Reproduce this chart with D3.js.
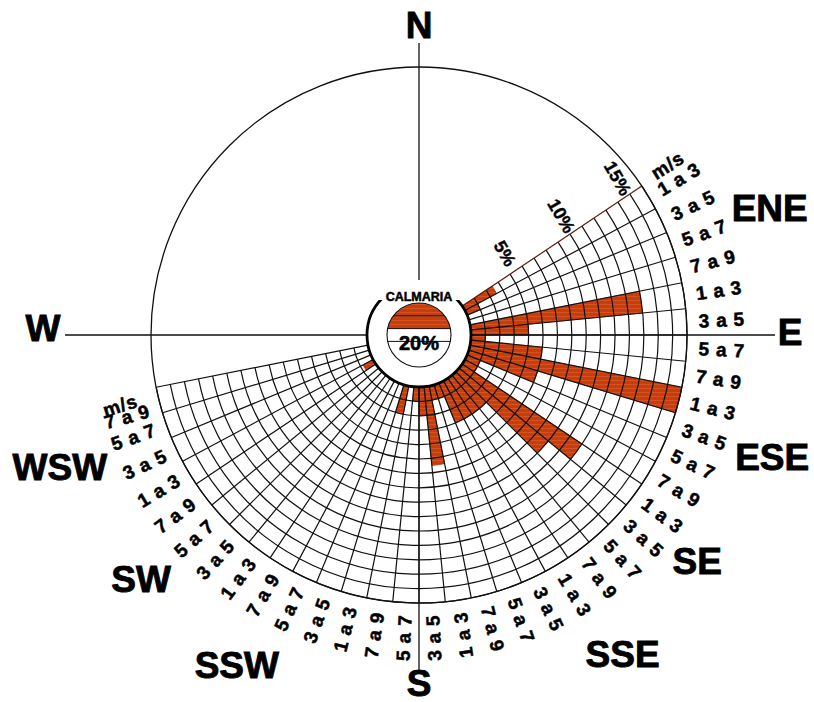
<!DOCTYPE html>
<html>
<head>
<meta charset="utf-8">
<script src="https://cdn.jsdelivr.net/npm/d3@7"></script>
<style>
  html, body { margin: 0; padding: 0; background: #fff; }
  svg { display: block; }
  text { font-family: "Liberation Sans", Arial, sans-serif; font-weight: bold; }
</style>
</head>
<body>
<svg id="chart" width="814" height="702"></svg>
<script>
// Wind directions shown on the rose, clockwise from ENE
const directions = ["ENE", "E", "ESE", "SE", "SSE", "S", "SSW", "SW", "WSW"];
// Wind speed classes (m/s), clockwise inside each direction
const speedClasses = ["1 a 3", "3 a 5", "5 a 7", "7 a 9"];
// Frequency of occurrence (%) per direction, one value per speed class
const freqENE = [2.5, 1, 0, 0];
const freqE   = [12, 4, 1, 5];
const freqESE = [15, 5, 1, 1];
const freqSE  = [10, 8, 3, 3];
const freqSSE = [3, 3, 1, 1];
const freqS   = [5.5, 2, 1, 0];
const freqSSW = [2, 0, 0, 0];
const freqSW  = [0, 0, 0, 0];
const freqWSW = [0.8, 0, 0, 0];
// Ring labels and calm frequency
const ringLabels = [5, 10, 15];
const calmValue = 20;
const calmTicks = [10, 20, 30];
const compassNames = ["N", "ENE", "E", "ESE", "SE", "SSE", "S", "SSW", "SW", "WSW", "W"];
const unitLabel = "m/s";

// ---- layout ----
const cx = 419, cy = 335;
const innerR = 52, outerR = 268, calmR = 32;
const maxPct = 15;
const deg = Math.PI / 180;
const red = "url(#redTex)";
// label placement around the rose: [bearing, distance from centre]
const compassLayout = {
  N: [0, 310], ENE: [70.1, 373], E: [89.6, 371], ESE: [109.2, 374], SE: [129.2, 359],
  SSE: [147.5, 379], S: [180, 348], SSW: [208.9, 377], SW: [228.7, 370], WSW: [249.7, 383], W: [271, 376]
};
// unit captions at both ends of the speed-class ring: [bearing, distance, rotation]
const unitLayout = [[55.7, 301, -32], [256.7, 307, -18]];
// small angular nudges (degrees) for rim labels that sit next to a unit caption
const rimNudge = { "WSW|7 a 9": -1.6 };
// length of the four compass axes beyond the calm circle
const axisLength = { 0: 292, 90: 356, 180: 335, 270: 354 };

const freqByDir = { ENE: freqENE, E: freqE, ESE: freqESE, SE: freqSE, SSE: freqSSE,
                    S: freqS, SSW: freqSSW, SW: freqSW, WSW: freqWSW };
const records = directions.flatMap(dir => speedClasses.map((sp, i) => ({
  dir, speed: sp, key: dir + "|" + sp, value: freqByDir[dir][i]
})));

const firstBearing = 67.5 - 11.25;
const lastBearing = 67.5 + 22.5 * (directions.length - 1) + 11.25;

const angle = d3.scaleBand()
  .domain(records.map(d => d.key))
  .range([firstBearing * deg, lastBearing * deg])
  .paddingInner(0).paddingOuter(0);
const radius = d3.scaleLinear().domain([0, maxPct]).range([innerR, outerR]);
const calmScale = d3.scaleLinear().domain([0, 50]).range([0, 2 * calmR]);

const polar = (bearingDeg, r) => [r * Math.sin(bearingDeg * deg), -r * Math.cos(bearingDeg * deg)];

const svg = d3.select("#chart");
const defs = svg.append("defs");
const tex = defs.append("pattern").attr("id", "redTex")
  .attr("patternUnits", "userSpaceOnUse").attr("width", 9).attr("height", 4);
tex.append("rect").attr("width", 9).attr("height", 4).attr("fill", "#c93d0b");
tex.append("line").attr("x1", 0).attr("x2", 9).attr("y1", 1.5).attr("y2", 1.5)
  .attr("stroke", "#e0764c").attr("stroke-width", 0.7).attr("opacity", 0.55);
defs.append("clipPath").attr("id", "calmClip")
  .append("circle").attr("r", calmR);

const g = svg.append("g").attr("transform", `translate(${cx},${cy})`);

// ---- frequency bars ----
const barArc = d3.arc()
  .innerRadius(innerR)
  .outerRadius(d => radius(d.value))
  .startAngle(d => angle(d.key))
  .endAngle(d => angle(d.key) + angle.bandwidth());
g.append("g").selectAll("path")
  .data(records.filter(d => d.value > 0))
  .join("path")
  .attr("d", barArc)
  .attr("fill", red)
  .attr("stroke", "#7a2206").attr("stroke-width", 0.6);

// ---- grid: rings every 1 % and spokes between speed classes ----
const grid = g.append("g").attr("fill", "none").attr("stroke", "#111").attr("stroke-width", 1.2);
d3.range(1, maxPct + 1).forEach(v => {
  const p = d3.path();
  p.arc(0, 0, radius(v), firstBearing * deg - Math.PI / 2, lastBearing * deg - Math.PI / 2);
  grid.append("path").attr("d", p.toString());
});
const edges = angle.domain().map(k => angle(k)).concat([lastBearing * deg]);
grid.selectAll("line.spoke").data(edges).join("line")
  .attr("class", "spoke")
  .attr("x1", a => innerR * Math.sin(a)).attr("y1", a => -innerR * Math.cos(a))
  .attr("x2", a => outerR * Math.sin(a)).attr("y2", a => -outerR * Math.cos(a))
  .attr("stroke", (a, i) => i === 0 ? "#5a1e0c" : "#111");

// outer circle
g.append("circle").attr("r", outerR).attr("fill", "none").attr("stroke", "#111").attr("stroke-width", 1.3);

// compass axes
g.append("g").selectAll("line").data(Object.entries(axisLength)).join("line")
  .attr("x1", d => polar(+d[0], innerR)[0]).attr("y1", d => polar(+d[0], innerR)[1])
  .attr("x2", d => polar(+d[0], d[1])[0]).attr("y2", d => polar(+d[0], d[1])[1])
  .attr("stroke", "#111").attr("stroke-width", 1.3);

// ---- ring labels (5 %, 10 %, 15 %) along the first spoke ----
const edgeDir = [Math.sin(firstBearing * deg), -Math.cos(firstBearing * deg)];
const perpDir = [Math.sin((firstBearing - 90) * deg), -Math.cos((firstBearing - 90) * deg)];
g.append("g").selectAll("text").data(ringLabels).join("text")
  .attr("transform", v => {
    const a = radius(v) * 0.94;
    const x = edgeDir[0] * a + perpDir[0] * 20;
    const y = edgeDir[1] * a + perpDir[1] * 20;
    return `translate(${x},${y}) rotate(60)`;
  })
  .attr("text-anchor", "middle").attr("dominant-baseline", "central")
  .attr("font-size", 18).attr("stroke", "#000").attr("stroke-width", 0.4)
  .text(v => v + "%");

// ---- speed class labels around the rim ----
const labelR = 280;
const speedLabels = records.map(d => ({
  text: d.speed,
  b: (angle(d.key) + angle.bandwidth() / 2) / deg + (rimNudge[d.key] || 0)
}));
const rim = g.append("g").attr("font-size", 19).attr("letter-spacing", 0.8)
  .attr("stroke", "#000").attr("stroke-width", 0.5);
rim.selectAll("text.speed").data(speedLabels).join("text").attr("class", "speed")
  .attr("transform", d => {
    const [x, y] = polar(d.b, labelR);
    const rot = d.b <= 168.75 ? d.b - 90 : d.b - 270;
    return `translate(${x},${y}) rotate(${rot})`;
  })
  .attr("text-anchor", d => d.b <= 168.75 ? "start" : "end")
  .attr("dominant-baseline", "central")
  .text(d => d.text);
rim.selectAll("text.unit").data(unitLayout).join("text").attr("class", "unit")
  .attr("transform", d => {
    const [x, y] = polar(d[0], d[1]);
    return `translate(${x},${y}) rotate(${d[2]})`;
  })
  .attr("text-anchor", "middle").attr("dominant-baseline", "central")
  .text(unitLabel);

// ---- compass point labels ----
g.append("g").selectAll("text").data(compassNames).join("text")
  .attr("x", n => polar(compassLayout[n][0], compassLayout[n][1])[0])
  .attr("y", n => polar(compassLayout[n][0], compassLayout[n][1])[1])
  .attr("text-anchor", "middle").attr("dominant-baseline", "central")
  .attr("font-size", 37).attr("stroke", "#000").attr("stroke-width", 0.9)
  .text(n => n);

// ---- calm circle ----
const calm = g.append("g");
calm.append("circle").attr("r", innerR).attr("fill", "#fff").attr("stroke", "#000").attr("stroke-width", 2.8);
calm.append("rect").attr("x", -40).attr("y", -innerR - 3).attr("width", 80).attr("height", 20).attr("fill", "#fff");
calm.append("text").attr("x", 0).attr("y", -34).attr("text-anchor", "middle")
  .attr("font-size", 12.5).attr("stroke", "#000").attr("stroke-width", 0.5).text("CALMARIA");
calm.append("circle").attr("r", calmR).attr("fill", "#fff");
calm.append("rect").attr("clip-path", "url(#calmClip)")
  .attr("x", -calmR).attr("y", -calmR).attr("width", 2 * calmR).attr("height", calmScale(calmValue))
  .attr("fill", red);
calm.selectAll("line.calm").data(calmTicks).join("line").attr("class", "calm")
  .attr("x1", v => -Math.sqrt(calmR ** 2 - (calmScale(v) - calmR) ** 2))
  .attr("x2", v => Math.sqrt(calmR ** 2 - (calmScale(v) - calmR) ** 2))
  .attr("y1", v => calmScale(v) - calmR).attr("y2", v => calmScale(v) - calmR)
  .attr("stroke", "#111").attr("stroke-width", 1);
calm.append("circle").attr("r", calmR).attr("fill", "none").attr("stroke", "#111").attr("stroke-width", 1.1);
calm.append("text").attr("x", 0).attr("y", 15).attr("text-anchor", "middle")
  .attr("font-size", 20).attr("stroke", "#000").attr("stroke-width", 0.6).text(calmValue + "%");
</script>
</body>
</html>
